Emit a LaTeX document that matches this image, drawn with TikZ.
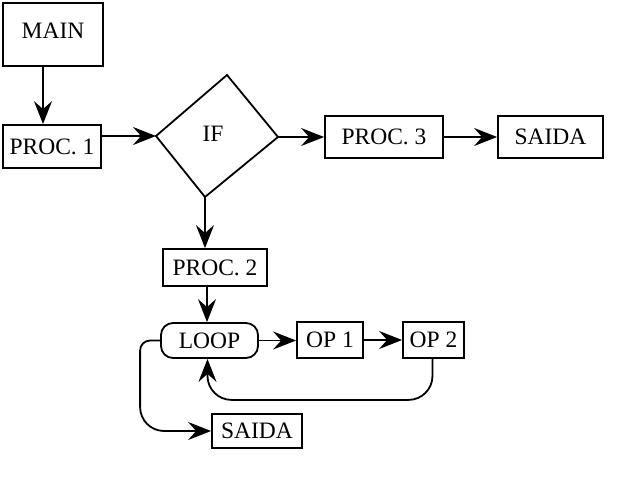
\documentclass[tikz,border=0pt]{standalone}
\usepackage{fontspec}
\setmainfont{Liberation Serif}
\usetikzlibrary{arrows.meta}

\begin{document}
\begin{tikzpicture}[%
			x=1pt, y=-1pt,
			line width=1.8pt,
			every node/.style={font=\fontsize{23.5}{28}\selectfont, align=center, inner sep=0pt},
			box/.style={draw, rectangle},
			loopbox/.style={draw, rectangle, rounded corners=12pt},
			arr/.style={-{Stealth[length=23pt, width=18pt, inset=8pt]}}
			]
			\useasboundingbox (0,0) rectangle (640,480);
			\node[box, minimum width=100pt, minimum height=63pt, text depth=8pt] (main) at (53,34.5) {MAIN};
			\node[box, minimum width=98pt, minimum height=43pt] (proc1) at (52,146.5) {PROC. 1};
			% decisao
			\coordinate (iftop) at (227,75);
			\coordinate (ifright) at (278,137);
			\coordinate (ifbottom) at (205,197);
			\coordinate (ifleft) at (156,136);
			\draw (iftop) -- (ifright) -- (ifbottom) -- (ifleft) -- cycle;
			\node (if) at (213,134) {IF};
			\node[box, minimum width=118pt, minimum height=42pt] (proc3) at (384,137) {PROC. 3};
			\node[box, minimum width=105pt, minimum height=42pt] (saida1) at (550.5,137) {SAIDA};
			\node[box, minimum width=104pt, minimum height=37pt] (proc2) at (215,267.5) {PROC. 2};
			\node[loopbox, minimum width=97pt, minimum height=35pt] (loop) at (209.5,340.5) {LOOP};
			\node[box, minimum width=66pt, minimum height=36pt] (op1) at (330,340) {OP 1};
			\node[box, minimum width=61pt, minimum height=36pt] (op2) at (433.5,340) {OP 2};
			\node[box, minimum width=90pt, minimum height=34pt] (saida2) at (257,431) {SAIDA};
			% ligacoes
			\draw[arr] ([xshift=-10pt]main.south) -- ([xshift=-10pt]main.south |- proc1.north);
			\draw[arr] (proc1.east |- ifleft) -- (ifleft);
			\draw[arr] (ifright) -- (proc3.west |- ifright);
			\draw[arr] (proc3.east) -- (saida1.west);
			\draw[arr] (ifbottom) -- (ifbottom |- proc2.north);
			\draw[arr] ([xshift=-8pt]proc2.south) -- ([xshift=-8pt]proc2.south |- loop.north);
			\draw[arr] (loop.east) -- (loop.east -| op1.west);
			\draw[arr] (op1.east) -- (op2.west);
			\draw[arr, rounded corners=24pt] ([xshift=-1pt]op2.south) |- ([xshift=-2pt, yshift=-41pt]loop.south) -- ([xshift=-2pt]loop.south);
			\draw[arr] (loop.west) [rounded corners=10pt] -- ++(-20,0) [rounded corners=24pt] |- (saida2.west);
		\end{tikzpicture}
\end{document}
